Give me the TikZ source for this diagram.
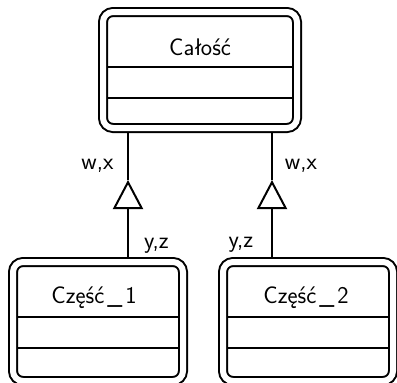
\documentclass[tikz,border=0pt]{standalone}
\usepackage{fontspec}
\usetikzlibrary{arrows.meta}
\newcommand{\partsep}{\kern3pt\_\kern3pt}
\begin{document}
\begin{tikzpicture}[x=1pt,y=-1pt,
  umlclass/.style={draw, line width=2pt, double, double distance=6pt,
    rounded corners=10pt, inner sep=0pt, outer sep=5pt},
  parttype/.style={umlclass, minimum width=170pt, minimum height=119pt},
  lbl/.style={font=\sffamily\fontsize{24}{28}\selectfont, inner sep=0pt, anchor=base},
  conn/.style={line width=2pt},
  gen/.style={conn, -{Triangle[open, length=29pt, width=30pt, line width=2pt]}}
]
\useasboundingbox (0,0) rectangle (397,383);

% classes
\node[umlclass, minimum width=194pt, minimum height=116pt] (whole) at (200,70) {};
\node[parttype] (part1) at (98,321.5) {};
\node[parttype] (part2) at (308,321.5) {};

% class names
\node[lbl] (wholename) at (200,55) {Całość};
\node[lbl] (part1name) at (94,303) {Część\partsep 1};
\node[lbl] (part2name) at (306,303) {Część\partsep 2};

% compartment dividers
\foreach \c/\ya/\yb in {whole/67/98, part1/317/348, part2/317/348} {
  \draw[conn] ([xshift=9pt]\c.west |- 0,\ya) -- ([xshift=-9pt]\c.east |- 0,\ya);
  \draw[conn] ([xshift=9pt]\c.west |- 0,\yb) -- ([xshift=-9pt]\c.east |- 0,\yb);
}

% generalisation connectors
\coordinate (tip1) at (128,180);
\coordinate (tip2) at (272,180);
\draw[gen] (tip1 |- part1.north) -- (tip1);
\draw[conn] (tip1) -- (tip1 |- whole.south);
\draw[gen] (tip2 |- part2.north) -- (tip2);
\draw[conn] (tip2) -- (tip2 |- whole.south);

% role labels
\node[lbl] (wx1) at (97.5,169) {w,x};
\node[lbl] (yz1) at (156.5,248) {y,z};
\node[lbl] (wx2) at (301,169) {w,x};
\node[lbl] (yz2) at (241,247) {y,z};
\end{tikzpicture}
\end{document}
